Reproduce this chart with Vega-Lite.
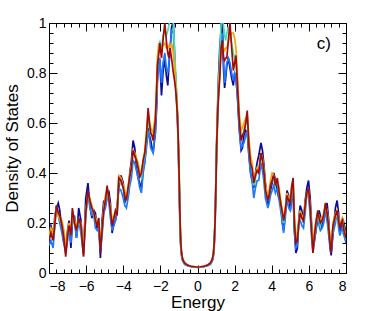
{
"$schema":"https://vega.github.io/schema/vega-lite/v6.json",
"autosize":"none",
"padding":{"left":49,"top":23,"right":36,"bottom":38},
"width":297,"height":250,
"config":{"view":{"stroke":"#000","strokeWidth":1},"font":"Liberation Sans","axis":{"grid":false,"domain":false,"tickColor":"#000","labelColor":"#000","titleColor":"#000","labelFont":"Liberation Sans","titleFont":"Liberation Sans","labelFontSize":14,"titleFontSize":17,"titleFontWeight":"normal"}},
"datasets":{"dos":[
{"x":-8.00,"r":0.13,"n":0.17,"b":0.11,"c":0.14,"o":0.15},
{"x":-7.90,"r":0.16,"n":0.19,"b":0.13,"c":0.16,"o":0.18},
{"x":-7.78,"r":0.13,"n":0.15,"b":0.10,"c":0.14,"o":0.16},
{"x":-7.68,"r":0.20,"n":0.23,"b":0.19,"c":0.21,"o":0.22},
{"x":-7.60,"r":0.27,"n":0.26,"b":0.27,"c":0.26,"o":0.25},
{"x":-7.50,"r":0.24,"n":0.28,"b":0.23,"c":0.24,"o":0.23},
{"x":-7.42,"r":0.23,"n":0.25,"b":0.20,"c":0.22,"o":0.21},
{"x":-7.30,"r":0.19,"n":0.17,"b":0.16,"c":0.19,"o":0.21},
{"x":-7.20,"r":0.14,"n":0.12,"b":0.12,"c":0.15,"o":0.17},
{"x":-7.10,"r":0.065,"n":0.10,"b":0.08,"c":0.09,"o":0.11},
{"x":-7.00,"r":0.15,"n":0.17,"b":0.13,"c":0.15,"o":0.16},
{"x":-6.92,"r":0.19,"n":0.21,"b":0.19,"c":0.19,"o":0.20},
{"x":-6.82,"r":0.15,"n":0.10,"b":0.12,"c":0.15,"o":0.17},
{"x":-6.74,"r":0.26,"n":0.20,"b":0.23,"c":0.25,"o":0.24},
{"x":-6.63,"r":0.20,"n":0.23,"b":0.21,"c":0.20,"o":0.21},
{"x":-6.52,"r":0.17,"n":0.14,"b":0.14,"c":0.17,"o":0.19},
{"x":-6.40,"r":0.22,"n":0.26,"b":0.21,"c":0.22,"o":0.21},
{"x":-6.28,"r":0.19,"n":0.21,"b":0.16,"c":0.18,"o":0.20},
{"x":-6.14,"r":0.065,"n":0.08,"b":0.07,"c":0.09,"o":0.10},
{"x":-6.02,"r":0.24,"n":0.30,"b":0.22,"c":0.24,"o":0.25},
{"x":-5.90,"r":0.33,"n":0.36,"b":0.33,"c":0.32,"o":0.31},
{"x":-5.80,"r":0.29,"n":0.27,"b":0.26,"c":0.29,"o":0.30},
{"x":-5.69,"r":0.26,"n":0.22,"b":0.23,"c":0.26,"o":0.27},
{"x":-5.58,"r":0.24,"n":0.25,"b":0.23,"c":0.23,"o":0.24},
{"x":-5.50,"r":0.21,"n":0.24,"b":0.18,"c":0.21,"o":0.22},
{"x":-5.40,"r":0.19,"n":0.17,"b":0.17,"c":0.20,"o":0.21},
{"x":-5.32,"r":0.22,"n":0.19,"b":0.19,"c":0.22,"o":0.20},
{"x":-5.23,"r":0.08,"n":0.06,"b":0.09,"c":0.10,"o":0.12},
{"x":-5.14,"r":0.17,"n":0.21,"b":0.15,"c":0.17,"o":0.18},
{"x":-5.05,"r":0.25,"n":0.29,"b":0.24,"c":0.25,"o":0.26},
{"x":-4.96,"r":0.29,"n":0.27,"b":0.26,"c":0.29,"o":0.31},
{"x":-4.87,"r":0.35,"n":0.31,"b":0.30,"c":0.34,"o":0.33},
{"x":-4.78,"r":0.30,"n":0.33,"b":0.29,"c":0.30,"o":0.29},
{"x":-4.69,"r":0.25,"n":0.28,"b":0.22,"c":0.25,"o":0.27},
{"x":-4.60,"r":0.19,"n":0.16,"b":0.17,"c":0.20,"o":0.21},
{"x":-4.50,"r":0.22,"n":0.20,"b":0.19,"c":0.22,"o":0.23},
{"x":-4.42,"r":0.25,"n":0.21,"b":0.21,"c":0.24,"o":0.25},
{"x":-4.33,"r":0.23,"n":0.27,"b":0.24,"c":0.24,"o":0.25},
{"x":-4.24,"r":0.38,"n":0.34,"b":0.34,"c":0.37,"o":0.39},
{"x":-4.12,"r":0.37,"n":0.39,"b":0.33,"c":0.36,"o":0.38},
{"x":-4.00,"r":0.34,"n":0.36,"b":0.30,"c":0.34,"o":0.35},
{"x":-3.92,"r":0.31,"n":0.28,"b":0.27,"c":0.31,"o":0.33},
{"x":-3.83,"r":0.29,"n":0.32,"b":0.26,"c":0.29,"o":0.30},
{"x":-3.74,"r":0.34,"n":0.30,"b":0.30,"c":0.33,"o":0.35},
{"x":-3.65,"r":0.385,"n":0.40,"b":0.35,"c":0.38,"o":0.39},
{"x":-3.56,"r":0.42,"n":0.45,"b":0.38,"c":0.42,"o":0.43},
{"x":-3.47,"r":0.49,"n":0.53,"b":0.45,"c":0.48,"o":0.49},
{"x":-3.38,"r":0.47,"n":0.50,"b":0.44,"c":0.47,"o":0.48},
{"x":-3.29,"r":0.45,"n":0.42,"b":0.41,"c":0.45,"o":0.46},
{"x":-3.20,"r":0.42,"n":0.38,"b":0.38,"c":0.42,"o":0.44},
{"x":-3.11,"r":0.385,"n":0.36,"b":0.34,"c":0.39,"o":0.41},
{"x":-3.02,"r":0.40,"n":0.34,"b":0.32,"c":0.38,"o":0.40},
{"x":-2.93,"r":0.45,"n":0.41,"b":0.40,"c":0.44,"o":0.45},
{"x":-2.84,"r":0.48,"n":0.45,"b":0.44,"c":0.47,"o":0.49},
{"x":-2.75,"r":0.55,"n":0.52,"b":0.50,"c":0.54,"o":0.56},
{"x":-2.66,"r":0.66,"n":0.58,"b":0.57,"c":0.62,"o":0.64},
{"x":-2.59,"r":0.60,"n":0.55,"b":0.54,"c":0.58,"o":0.61},
{"x":-2.52,"r":0.56,"n":0.53,"b":0.50,"c":0.55,"o":0.58},
{"x":-2.45,"r":0.55,"n":0.50,"b":0.49,"c":0.55,"o":0.57},
{"x":-2.39,"r":0.53,"n":0.48,"b":0.48,"c":0.54,"o":0.56},
{"x":-2.33,"r":0.57,"n":0.52,"b":0.53,"c":0.58,"o":0.60},
{"x":-2.27,"r":0.61,"n":0.56,"b":0.56,"c":0.62,"o":0.63},
{"x":-2.20,"r":0.74,"n":0.68,"b":0.66,"c":0.73,"o":0.76},
{"x":-2.16,"r":0.83,"n":0.80,"b":0.76,"c":0.84,"o":0.86},
{"x":-2.08,"r":0.88,"n":0.86,"b":0.83,"c":0.90,"o":0.92},
{"x":-2.03,"r":0.92,"n":0.85,"b":0.86,"c":0.93,"o":0.90},
{"x":-1.94,"r":0.86,"n":0.71,"b":0.76,"c":0.88,"o":0.90},
{"x":-1.86,"r":0.93,"n":0.80,"b":0.84,"c":0.95,"o":0.91},
{"x":-1.76,"r":1.00,"n":0.86,"b":0.88,"c":0.97,"o":0.92},
{"x":-1.68,"r":0.93,"n":0.79,"b":0.82,"c":0.95,"o":0.90},
{"x":-1.60,"r":0.88,"n":0.75,"b":0.80,"c":0.97,"o":0.90},
{"x":-1.54,"r":0.86,"n":0.83,"b":0.84,"c":0.99,"o":0.91},
{"x":-1.48,"r":0.90,"n":0.88,"b":0.90,"c":1.02,"o":0.90},
{"x":-1.40,"r":0.86,"n":0.98,"b":0.97,"c":1.03,"o":0.92},
{"x":-1.30,"r":0.80,"n":1.01,"b":0.96,"c":1.00,"o":0.88},
{"x":-1.22,"r":0.76,"n":0.84,"b":0.82,"c":0.86,"o":0.80},
{"x":-1.15,"r":0.71,"n":0.74,"b":0.72,"c":0.76,"o":0.73},
{"x":-1.08,"r":0.63,"n":0.63,"b":0.61,"c":0.65,"o":0.64},
{"x":-1.03,"r":0.52,"n":0.50,"b":0.48,"c":0.53,"o":0.52},
{"x":-0.98,"r":0.36,"n":0.33,"b":0.31,"c":0.37,"o":0.36},
{"x":-0.94,"r":0.21,"n":0.19,"b":0.17,"c":0.22,"o":0.21},
{"x":-0.90,"r":0.12,"n":0.11,"b":0.10,"c":0.12,"o":0.12},
{"x":-0.86,"r":0.08,"n":0.075,"b":0.07,"c":0.08,"o":0.08},
{"x":-0.80,"r":0.055,"n":0.052,"b":0.048,"c":0.055,"o":0.055},
{"x":-0.70,"r":0.040,"n":0.038,"b":0.035,"c":0.040,"o":0.040},
{"x":-0.55,"r":0.032,"n":0.031,"b":0.029,"c":0.032,"o":0.032},
{"x":-0.35,"r":0.027,"n":0.026,"b":0.025,"c":0.027,"o":0.027},
{"x":-0.15,"r":0.025,"n":0.024,"b":0.023,"c":0.025,"o":0.025},
{"x":0.00,"r":0.024,"n":0.024,"b":0.022,"c":0.024,"o":0.024},
{"x":0.15,"r":0.025,"n":0.024,"b":0.023,"c":0.025,"o":0.025},
{"x":0.35,"r":0.027,"n":0.026,"b":0.025,"c":0.027,"o":0.027},
{"x":0.55,"r":0.032,"n":0.031,"b":0.029,"c":0.032,"o":0.032},
{"x":0.70,"r":0.040,"n":0.038,"b":0.035,"c":0.040,"o":0.040},
{"x":0.80,"r":0.055,"n":0.052,"b":0.048,"c":0.055,"o":0.055},
{"x":0.86,"r":0.08,"n":0.075,"b":0.07,"c":0.08,"o":0.08},
{"x":0.90,"r":0.12,"n":0.12,"b":0.10,"c":0.12,"o":0.12},
{"x":0.94,"r":0.19,"n":0.20,"b":0.17,"c":0.20,"o":0.19},
{"x":0.98,"r":0.30,"n":0.33,"b":0.29,"c":0.32,"o":0.31},
{"x":1.03,"r":0.50,"n":0.52,"b":0.47,"c":0.51,"o":0.50},
{"x":1.08,"r":0.62,"n":0.66,"b":0.60,"c":0.64,"o":0.63},
{"x":1.13,"r":0.71,"n":0.78,"b":0.70,"c":0.74,"o":0.72},
{"x":1.20,"r":0.78,"n":0.90,"b":0.82,"c":0.86,"o":0.80},
{"x":1.27,"r":0.90,"n":0.97,"b":0.93,"c":1.00,"o":0.88},
{"x":1.34,"r":0.93,"n":1.00,"b":0.96,"c":1.03,"o":0.92},
{"x":1.40,"r":0.86,"n":0.82,"b":0.86,"c":0.99,"o":0.90},
{"x":1.46,"r":0.85,"n":0.74,"b":0.76,"c":0.95,"o":0.89},
{"x":1.52,"r":0.86,"n":0.78,"b":0.80,"c":0.93,"o":0.90},
{"x":1.58,"r":0.86,"n":0.83,"b":0.84,"c":0.96,"o":0.90},
{"x":1.66,"r":0.93,"n":0.86,"b":0.86,"c":0.98,"o":0.92},
{"x":1.75,"r":1.00,"n":0.82,"b":0.84,"c":0.97,"o":0.95},
{"x":1.84,"r":0.90,"n":0.78,"b":0.80,"c":0.92,"o":0.96},
{"x":1.93,"r":0.81,"n":0.75,"b":0.77,"c":0.88,"o":0.96},
{"x":2.00,"r":0.84,"n":0.80,"b":0.80,"c":0.86,"o":0.94},
{"x":2.07,"r":0.87,"n":0.78,"b":0.79,"c":0.85,"o":0.90},
{"x":2.16,"r":0.74,"n":0.70,"b":0.69,"c":0.75,"o":0.78},
{"x":2.25,"r":0.61,"n":0.58,"b":0.57,"c":0.62,"o":0.64},
{"x":2.35,"r":0.53,"n":0.49,"b":0.50,"c":0.54,"o":0.57},
{"x":2.42,"r":0.55,"n":0.50,"b":0.51,"c":0.55,"o":0.58},
{"x":2.50,"r":0.56,"n":0.55,"b":0.52,"c":0.57,"o":0.60},
{"x":2.60,"r":0.60,"n":0.57,"b":0.55,"c":0.60,"o":0.62},
{"x":2.68,"r":0.65,"n":0.56,"b":0.57,"c":0.62,"o":0.63},
{"x":2.76,"r":0.52,"n":0.48,"b":0.48,"c":0.52,"o":0.55},
{"x":2.85,"r":0.44,"n":0.41,"b":0.40,"c":0.44,"o":0.47},
{"x":2.94,"r":0.42,"n":0.37,"b":0.37,"c":0.42,"o":0.44},
{"x":3.03,"r":0.36,"n":0.34,"b":0.30,"c":0.35,"o":0.37},
{"x":3.12,"r":0.39,"n":0.40,"b":0.34,"c":0.38,"o":0.40},
{"x":3.21,"r":0.41,"n":0.44,"b":0.37,"c":0.41,"o":0.42},
{"x":3.30,"r":0.40,"n":0.47,"b":0.37,"c":0.40,"o":0.41},
{"x":3.42,"r":0.48,"n":0.52,"b":0.44,"c":0.47,"o":0.48},
{"x":3.50,"r":0.45,"n":0.49,"b":0.41,"c":0.45,"o":0.46},
{"x":3.57,"r":0.41,"n":0.44,"b":0.37,"c":0.41,"o":0.42},
{"x":3.66,"r":0.33,"n":0.36,"b":0.30,"c":0.33,"o":0.35},
{"x":3.79,"r":0.29,"n":0.27,"b":0.26,"c":0.29,"o":0.31},
{"x":3.86,"r":0.31,"n":0.30,"b":0.28,"c":0.31,"o":0.33},
{"x":3.93,"r":0.35,"n":0.33,"b":0.31,"c":0.35,"o":0.37},
{"x":4.02,"r":0.37,"n":0.36,"b":0.33,"c":0.37,"o":0.40},
{"x":4.11,"r":0.39,"n":0.40,"b":0.35,"c":0.38,"o":0.39},
{"x":4.20,"r":0.35,"n":0.37,"b":0.32,"c":0.35,"o":0.36},
{"x":4.30,"r":0.38,"n":0.33,"b":0.34,"c":0.37,"o":0.36},
{"x":4.38,"r":0.33,"n":0.30,"b":0.30,"c":0.33,"o":0.35},
{"x":4.50,"r":0.27,"n":0.28,"b":0.24,"c":0.27,"o":0.28},
{"x":4.57,"r":0.24,"n":0.20,"b":0.20,"c":0.23,"o":0.25},
{"x":4.64,"r":0.21,"n":0.17,"b":0.16,"c":0.20,"o":0.22},
{"x":4.73,"r":0.25,"n":0.24,"b":0.22,"c":0.25,"o":0.26},
{"x":4.82,"r":0.31,"n":0.33,"b":0.30,"c":0.31,"o":0.32},
{"x":4.91,"r":0.29,"n":0.31,"b":0.26,"c":0.29,"o":0.30},
{"x":5.00,"r":0.28,"n":0.25,"b":0.25,"c":0.28,"o":0.30},
{"x":5.08,"r":0.35,"n":0.30,"b":0.31,"c":0.34,"o":0.35},
{"x":5.15,"r":0.38,"n":0.33,"b":0.33,"c":0.37,"o":0.36},
{"x":5.22,"r":0.20,"n":0.17,"b":0.17,"c":0.21,"o":0.23},
{"x":5.30,"r":0.12,"n":0.08,"b":0.10,"c":0.13,"o":0.15},
{"x":5.38,"r":0.13,"n":0.10,"b":0.11,"c":0.14,"o":0.15},
{"x":5.46,"r":0.20,"n":0.22,"b":0.20,"c":0.20,"o":0.21},
{"x":5.53,"r":0.24,"n":0.27,"b":0.21,"c":0.24,"o":0.25},
{"x":5.62,"r":0.22,"n":0.25,"b":0.19,"c":0.22,"o":0.23},
{"x":5.71,"r":0.21,"n":0.20,"b":0.18,"c":0.21,"o":0.22},
{"x":5.80,"r":0.27,"n":0.29,"b":0.24,"c":0.27,"o":0.28},
{"x":5.89,"r":0.32,"n":0.34,"b":0.32,"c":0.32,"o":0.31},
{"x":5.98,"r":0.34,"n":0.37,"b":0.31,"c":0.33,"o":0.33},
{"x":6.07,"r":0.26,"n":0.30,"b":0.23,"c":0.26,"o":0.27},
{"x":6.15,"r":0.16,"n":0.19,"b":0.14,"c":0.17,"o":0.18},
{"x":6.22,"r":0.08,"n":0.10,"b":0.08,"c":0.09,"o":0.11},
{"x":6.30,"r":0.15,"n":0.13,"b":0.13,"c":0.15,"o":0.17},
{"x":6.38,"r":0.20,"n":0.17,"b":0.17,"c":0.20,"o":0.21},
{"x":6.48,"r":0.25,"n":0.22,"b":0.24,"c":0.25,"o":0.24},
{"x":6.55,"r":0.22,"n":0.25,"b":0.19,"c":0.21,"o":0.23},
{"x":6.62,"r":0.20,"n":0.23,"b":0.17,"c":0.19,"o":0.21},
{"x":6.71,"r":0.21,"n":0.18,"b":0.18,"c":0.21,"o":0.22},
{"x":6.80,"r":0.23,"n":0.22,"b":0.20,"c":0.23,"o":0.24},
{"x":6.89,"r":0.28,"n":0.26,"b":0.25,"c":0.27,"o":0.27},
{"x":6.98,"r":0.24,"n":0.28,"b":0.21,"c":0.24,"o":0.25},
{"x":7.07,"r":0.18,"n":0.21,"b":0.15,"c":0.18,"o":0.19},
{"x":7.14,"r":0.12,"n":0.10,"b":0.10,"c":0.13,"o":0.14},
{"x":7.20,"r":0.08,"n":0.07,"b":0.08,"c":0.10,"o":0.11},
{"x":7.30,"r":0.19,"n":0.16,"b":0.16,"c":0.19,"o":0.20},
{"x":7.43,"r":0.23,"n":0.26,"b":0.20,"c":0.22,"o":0.24},
{"x":7.52,"r":0.25,"n":0.29,"b":0.25,"c":0.24,"o":0.25},
{"x":7.60,"r":0.21,"n":0.24,"b":0.18,"c":0.21,"o":0.22},
{"x":7.67,"r":0.18,"n":0.16,"b":0.15,"c":0.18,"o":0.20},
{"x":7.74,"r":0.20,"n":0.18,"b":0.17,"c":0.20,"o":0.21},
{"x":7.80,"r":0.21,"n":0.22,"b":0.18,"c":0.21,"o":0.22},
{"x":7.89,"r":0.17,"n":0.20,"b":0.15,"c":0.17,"o":0.18},
{"x":8.00,"r":0.14,"n":0.16,"b":0.12,"c":0.14,"o":0.15}
]},
"layer":[
{"data":{"name":"dos"},
 "transform":[{"fold":["n","b","c","o","r"],"as":["series","dos"]}],
 "mark":{"type":"line","interpolate":"linear","strokeWidth":1.7,"clip":true},
 "encoding":{
  "x":{"field":"x","type":"quantitative","scale":{"domain":[-8,8],"nice":false,"zero":false},
       "axis":{"orient":"bottom","values":[-8,-6,-4,-2,0,2,4,6,8],"format":"~g","ticks":false,"labelPadding":6,"title":"Energy","titleX":148.5,"titleY":34,"titleBaseline":"alphabetic"}},
  "y":{"field":"dos","type":"quantitative","scale":{"domain":[0,1],"nice":false,"zero":false},
       "axis":{"orient":"left","values":[0,0.2,0.4,0.6,0.8,1],"format":"~g","ticks":false,"labelPadding":3,"title":"Density of States","titleX":-32,"titleY":125,"titleBaseline":"alphabetic"}},
  "color":{"field":"series","type":"nominal","scale":{"domain":["n","b","c","o","r"],"range":["#0c0c98","#1f78ff","#44e0b8","#ffa200","#a00c0c"]},"legend":null}
 }},
{"data":{"name":"dos"},
 "mark":{"type":"point","opacity":0},
 "encoding":{
  "x":{"field":"x","type":"quantitative","scale":{"domain":[-8,8],"nice":false,"zero":false},
       "axis":{"orient":"bottom","values":[-8,-6,-4,-2,0,2,4,6,8],"labels":false,"tickSize":-8,"title":null}},
  "y":{"field":"r","type":"quantitative","scale":{"domain":[0,1],"nice":false,"zero":false},
       "axis":{"orient":"left","values":[0,0.2,0.4,0.6,0.8,1],"labels":false,"tickSize":-8,"title":null}}
 }},
{"data":{"name":"dos"},
 "mark":{"type":"point","opacity":0},
 "encoding":{
  "x":{"field":"x","type":"quantitative","scale":{"domain":[-8,8],"nice":false,"zero":false},
       "axis":{"orient":"bottom","values":[-7.6,-7.2,-6.8,-6.4,-5.6,-5.2,-4.8,-4.4,-3.6,-3.2,-2.8,-2.4,-1.6,-1.2,-0.8,-0.4,0.4,0.8,1.2,1.6,2.4,2.8,3.2,3.6,4.4,4.8,5.2,5.6,6.4,6.8,7.2,7.6],"labels":false,"tickSize":-4,"title":null}},
  "y":{"field":"r","type":"quantitative","scale":{"domain":[0,1],"nice":false,"zero":false},
       "axis":{"orient":"left","values":[0.04,0.08,0.12,0.16,0.24,0.28,0.32,0.36,0.44,0.48,0.52,0.56,0.64,0.68,0.72,0.76,0.84,0.88,0.92,0.96],"labels":false,"tickSize":-4,"title":null}}
 }},
{"data":{"name":"dos"},
 "mark":{"type":"point","opacity":0},
 "encoding":{
  "x":{"field":"x","type":"quantitative","scale":{"domain":[-8,8],"nice":false,"zero":false},
       "axis":{"orient":"top","values":[-8,-6,-4,-2,0,2,4,6,8],"labels":false,"tickSize":-8,"title":null}},
  "y":{"field":"r","type":"quantitative","scale":{"domain":[0,1],"nice":false,"zero":false},
       "axis":{"orient":"right","values":[0,0.2,0.4,0.6,0.8,1],"labels":false,"tickSize":-8,"title":null}}
 }},
{"data":{"name":"dos"},
 "mark":{"type":"point","opacity":0},
 "encoding":{
  "x":{"field":"x","type":"quantitative","scale":{"domain":[-8,8],"nice":false,"zero":false},
       "axis":{"orient":"top","values":[-7.6,-7.2,-6.8,-6.4,-5.6,-5.2,-4.8,-4.4,-3.6,-3.2,-2.8,-2.4,-1.6,-1.2,-0.8,-0.4,0.4,0.8,1.2,1.6,2.4,2.8,3.2,3.6,4.4,4.8,5.2,5.6,6.4,6.8,7.2,7.6],"labels":false,"tickSize":-4,"title":null}},
  "y":{"field":"r","type":"quantitative","scale":{"domain":[0,1],"nice":false,"zero":false},
       "axis":{"orient":"right","values":[0.04,0.08,0.12,0.16,0.24,0.28,0.32,0.36,0.44,0.48,0.52,0.56,0.64,0.68,0.72,0.76,0.84,0.88,0.92,0.96],"labels":false,"tickSize":-4,"title":null}}
 }},
{"data":{"values":[{"label":"c)"}]},
 "mark":{"type":"text","align":"left","baseline":"alphabetic","fontSize":17,"font":"Liberation Sans","color":"#000"},
 "encoding":{
  "x":{"datum":6.42,"type":"quantitative","axis":null},
  "y":{"datum":0.897,"type":"quantitative","axis":null},
  "text":{"field":"label"}
 }}
],
"resolve":{"axis":{"x":"independent","y":"independent"}}
}
